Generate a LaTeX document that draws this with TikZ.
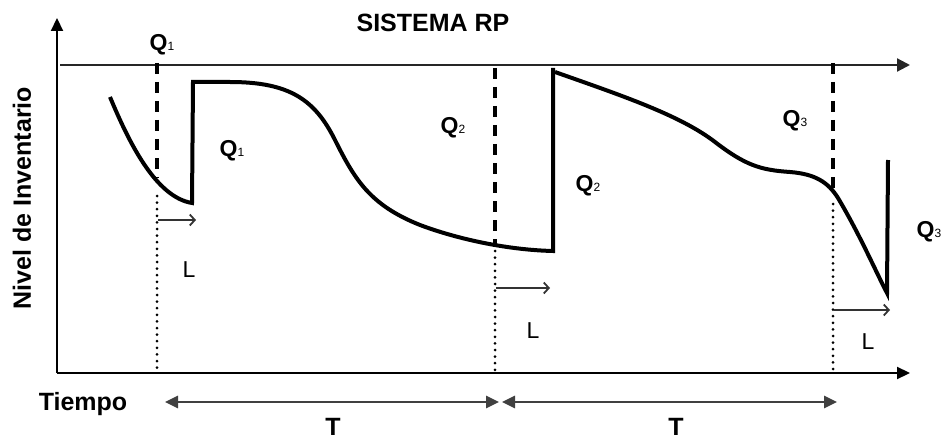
\documentclass[tikz,border=0pt]{standalone}
\usepackage{fontspec}
\setmainfont{Liberation Sans}
\usetikzlibrary{arrows.meta}
\newcommand{\qsub}[1]{{\fontsize{12}{12}\selectfont\mdseries #1}}
\begin{document}
\begin{tikzpicture}[x=1pt,y=-1pt,
  axisline/.style={line width=2.2pt,-{Triangle[length=13pt,width=12pt]}},
  topline/.style={line width=2.2pt,draw=black!85,-{Triangle[length=13pt,width=13pt]}},
  curve/.style={line width=4pt,line join=miter},
  dashline/.style={line width=3.2pt,dash pattern=on 11pt off 8pt},
  dotline/.style={line width=3pt,dash pattern=on 0pt off 6.6pt,line cap=round},
  larrow/.style={line width=1.8pt,draw=black!80,-{Straight Barb[length=5pt,width=11pt]}},
  tarrow/.style={line width=2.8pt,draw=black!75,{Triangle[length=13pt,width=12pt]}-{Triangle[length=13pt,width=12pt]}},
  qlab/.style={inner sep=0pt,font=\fontsize{23}{23}\selectfont\bfseries},
  llab/.style={inner sep=0pt,font=\fontsize{23}{23}\selectfont},
  tlab/.style={inner sep=0pt,font=\fontsize{25}{25}\selectfont\bfseries},
  title/.style={inner sep=0pt,font=\fontsize{25}{25}\selectfont\bfseries}]
\useasboundingbox (0,0) rectangle (942,441);
% axes
\coordinate (o) at (57,373);
\coordinate (ytop) at (57,18);
\coordinate (xend) at (910,373);
\coordinate (ts) at (60,65);
\coordinate (te) at (910,65);
\draw[axisline] (o) -- (ytop);
\draw[axisline] (o) -- (xend);
\draw[topline] (ts) -- (te);
% texts
\node[title] (tit) at (433,23) {SISTEMA RP};
\node[tlab] (tiempo) at (83,404) {Tiempo};
\node[tlab,rotate=90] (nivel) at (22,198) {Nivel de Inventario};
% dashed / dotted review lines
\coordinate (d1a) at (157,63); \coordinate (d1b) at (157,178); \coordinate (d1c) at (157,196); \coordinate (d1d) at (157,374);
\coordinate (d2a) at (495,68); \coordinate (d2b) at (495,245); \coordinate (d2c) at (495,251); \coordinate (d2d) at (495,374);
\coordinate (d3a) at (833,63); \coordinate (d3b) at (833,192); \coordinate (d3c) at (833,204); \coordinate (d3d) at (833,374);
\draw[dashline] (d1a) -- (d1b);
\draw[dotline] (d1c) -- (d1d);
\draw[dashline] (d2a) -- (d2b);
\draw[dotline] (d2c) -- (d2d);
\draw[dashline] (d3a) -- (d3b);
\draw[dotline] (d3c) -- (d3d);
% inventory curve
\draw[curve] (110,97) .. controls (128,140) and (155,197) .. (192,203)
  -- (193,82) -- (230,82)
  .. controls (290,82) and (315,100) .. (335,140)
  .. controls (355,180) and (370,205) .. (420,225)
  .. controls (460,240) and (510,250) .. (553,251)
  -- (553,68);
\draw[curve] (555,72) .. controls (620,95) and (680,115) .. (715,142)
  .. controls (745,165) and (760,170) .. (790,172)
  .. controls (815,174) and (828,182) .. (838,198)
  .. controls (860,235) and (875,270) .. (887,293)
  -- (888,160);
% labels Q
\node[qlab] (q1a) at (162,45) {Q\qsub{1}};
\node[qlab] (q1b) at (232,151) {Q\qsub{1}};
\node[qlab] (q2a) at (453,128) {Q\qsub{2}};
\node[qlab] (q2b) at (588,186) {Q\qsub{2}};
\node[qlab] (q3a) at (795,121) {Q\qsub{3}};
\node[qlab] (q3b) at (929,232) {Q\qsub{3}};
% lead time arrows
\coordinate (l1s) at (158,220); \coordinate (l1e) at (196,220);
\coordinate (l2s) at (496,288); \coordinate (l2e) at (550,288);
\coordinate (l3s) at (834,310); \coordinate (l3e) at (890,310);
\draw[larrow] (l1s) -- (l1e);
\draw[larrow] (l2s) -- (l2e);
\draw[larrow] (l3s) -- (l3e);
\node[llab] (L1) at (189,270) {L};
\node[llab] (L2) at (533,331) {L};
\node[llab] (L3) at (868,342) {L};
% period arrows
\coordinate (t1s) at (165,402); \coordinate (t1e) at (499,402);
\coordinate (t2s) at (502,402); \coordinate (t2e) at (837,402);
\draw[tarrow] (t1s) -- (t1e);
\draw[tarrow] (t2s) -- (t2e);
\node[tlab] (T1) at (333,427) {T};
\node[tlab] (T2) at (676,427) {T};
\end{tikzpicture}
\end{document}
